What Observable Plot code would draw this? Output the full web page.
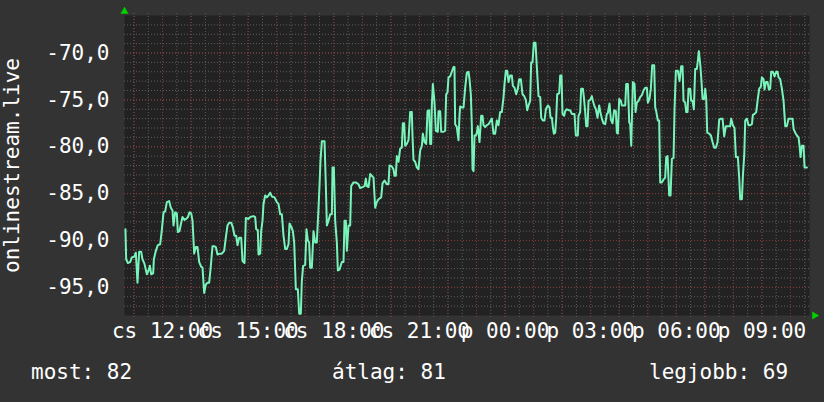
<!DOCTYPE html>
<html><head><meta charset="utf-8">
<script src="https://cdn.jsdelivr.net/npm/d3@7"></script>
<script src="https://cdn.jsdelivr.net/npm/@observablehq/plot@0.6"></script>
<style>
body{margin:0;background:#333333;}
#chart{width:824px;height:402px;position:relative;background:#333333;overflow:hidden}
.legend{position:relative;height:57px;font-family:"DejaVu Sans Mono",monospace;font-size:21px;color:#ffffff}
.legend span{position:absolute;top:15px;line-height:24px;white-space:pre}
</style></head><body><div id="chart"></div>
<script>
const yAxisTitle = "onlinestream.live";
const dayNames = ["v","h","k","sze","cs","p","szo"];
const startTime = Date.UTC(2024, 0, 4, 10, 40); // csütörtök 10:40
const spanMinutes = 1440;
const yDomain = [-98, -66];
const yTicks = [-95, -90, -85, -80, -75, -70];
const labelHours = [12, 15, 18, 21, 24, 27, 30, 33];
const legendItems = [["most", "82"], ["átlag", "81"], ["legjobb", "69"]];

const minutes = [
2.0,3.5,7.0,11.9,15.4,21.0,23.8,27.3,30.8,35.0,37.8,42.1,47.0,50.5,53.3,56.1,60.3,61.7,65.9,70.1,75.0,78.5,82.0,85.5,89.0,93.9,97.4,100.9,103.0,106.5,110.0,112.1,115.6,118.4,121.9,126.1,129.7,133.2,136.7,140.2,143.0,146.5,150.0,153.5,157.0,161.2,164.0,167.5,171.0,174.5,178.0,181.5,185.0,188.5,192.0,195.5,199.7,204.6,209.5,213.0,216.5,220.0,224.3,227.8,231.3,234.8,237.6,241.1,245.3,248.1,252.3,255.1,260.7,264.2,271.2,274.7,276.8,280.3,281.7,
285.2,287.3,290.1,292.2,295.7,299.2,302.7,306.2,309.7,315.3,320.2,323.7,327.3,330.8,334.3,337.8,341.3,344.8,346.9,350.4,353.9,356.7,360.2,364.4,367.2,370.7,372.8,375.6,379.8,382.6,385.4,388.2,390.3,393.8,397.3,400.8,404.3,407.8,409.9,412.0,414.9,420.5,423.3,425.4,428.9,432.4,435.9,437.3,440.1,442.9,446.4,448.5,452.0,456.9,460.4,462.5,465.3,467.4,470.9,474.4,476.5,481.4,486.3,491.9,495.4,500.3,504.6,507.4,509.5,513.0,516.5,520.0,523.5,527.0,530.5,534.0,539.6,542.4,546.6,551.5,555.0,557.1,562.0,565.5,567.6,570.4,572.5,
576.0,579.5,583.0,585.1,587.9,590.0,593.5,597.0,600.5,604.0,605.4,607.5,611.0,614.5,618.0,621.6,625.1,627.2,630.7,634.2,637.0,640.5,642.6,644.7,646.1,648.2,651.7,654.5,658.7,660.1,663.6,665.7,670.6,674.1,676.2,679.0,681.1,684.6,688.1,691.6,693.7,695.1,698.6,702.1,704.2,705.6,709.2,712.7,716.2,719.7,723.2,725.3,728.1,730.2,731.6,733.7,735.8,738.6,740.7,742.8,746.3,749.8,752.6,754.7,758.2,761.7,765.2,768.7,772.2,775.7,779.2,782.7,786.2,789.7,793.2,796.8,798.9,801.7,804.5,807.3,810.8,814.3,816.4,819.9,823.4,826.9,829.7,833.2,836.7,840.2,843.7,846.5,849.3,852.8,854.9,857.7,860.5,864.0,866.8,
870.4,873.9,876.0,879.5,883.0,885.8,890.0,893.5,895.6,898.4,900.5,902.6,905.4,907.5,909.6,913.8,915.9,918.7,920.8,924.3,926.4,929.9,933.4,936.9,940.4,943.9,946.0,948.8,953.0,954.4,957.9,960.0,963.6,965.7,968.5,970.6,973.4,975.5,979.0,982.5,984.6,988.1,990.9,994.4,997.9,1000.0,1003.5,1007.0,1010.5,1014.0,1016.1,1019.6,1022.4,1025.9,1029.4,1032.9,1035.0,1037.1,1039.9,1043.4,1045.5,1049.0,1052.6,1054.7,1058.2,1061.0,1063.1,1065.2,1068.7,1072.2,1074.3,1077.1,1080.6,1084.1,1087.6,1091.1,1094.6,1098.1,1100.2,1103.7,1106.5,1109.3,1113.5,1115.6,1117.7,1121.2,1124.0,1126.1,1129.6,1133.1,1136.6,1138.8,1141.6,1145.1,1147.9,1150.7,1154.2,1156.3,1159.1,1163.3,
1166.8,1170.3,1173.1,1175.2,1178.7,1180.8,1183.6,1185.7,1189.2,1191.3,1194.1,1196.9,1199.7,1203.2,1205.3,1207.4,1210.3,1212.4,1215.2,1218.7,1220.8,1222.9,1225.0,1229.2,1232.7,1236.2,1239.7,1243.2,1246.7,1250.2,1253.7,1257.2,1260.7,1264.2,1268.4,1273.3,1275.4,1278.9,1282.4,1285.2,1289.4,1292.2,1294.3,1297.9,1300.0,1302.8,1304.9,1308.4,1311.9,1315.4,1318.9,1321.0,1324.5,1328.0,1330.8,1334.3,1337.8,1339.9,1343.4,1345.5,1348.3,1351.8,1354.6,1357.4,1359.5,1363.0,1366.5,1370.0,1372.8,1374.9,1378.4,1381.9,1385.5,1389.0,1392.5,1396.0,1400.9,1404.4,1406.5,1410.0,1413.5,1417.0,1419.1,1421.2,1424.0,1427.5,1429.6,1434.5
];
const rssi = [
-88.8,-92.0,-92.4,-92.3,-91.8,-91.7,-91.3,-94.5,-91.2,-91.2,-92.0,-92.5,-93.6,-93.2,-92.7,-93.6,-93.5,-92.0,-91.1,-90.5,-90.4,-88.9,-87.0,-86.9,-85.9,-85.8,-86.5,-86.8,-88.4,-87.0,-87.1,-89.1,-89.0,-88.3,-87.5,-87.8,-87.7,-87.5,-87.0,-87.1,-87.9,-91.4,-90.7,-90.7,-92.3,-92.8,-92.9,-95.6,-94.7,-94.5,-94.5,-92.7,-90.6,-90.6,-90.7,-91.5,-91.4,-91.4,-91.1,-89.7,-88.4,-88.1,-88.1,-88.6,-89.5,-89.5,-90.5,-89.7,-89.7,-92.2,-92.4,-87.6,-87.7,-87.5,-87.4,-87.5,-88.8,-88.9,-91.5,
-91.4,-89.0,-87.9,-86.1,-85.2,-85.4,-85.2,-84.9,-85.3,-85.4,-85.9,-86.1,-87.2,-87.2,-89.5,-90.9,-90.9,-90.4,-88.2,-88.5,-89.0,-90.2,-95.2,-95.2,-97.8,-97.8,-94.3,-92.7,-92.6,-88.8,-90.0,-90.2,-92.9,-92.9,-89.0,-90.2,-90.2,-86.6,-84.2,-81.5,-79.4,-79.4,-84.2,-88.4,-87.9,-87.2,-87.2,-82.2,-82.2,-87.9,-90.2,-93.2,-93.1,-92.3,-92.3,-87.9,-87.9,-91.1,-88.4,-88.4,-84.2,-83.8,-83.8,-84.0,-84.4,-84.3,-84.2,-83.4,-84.2,-84.3,-82.9,-83.1,-83.3,-86.5,-85.9,-85.6,-85.4,-83.9,-83.6,-84.0,-84.0,-82.0,-82.1,-82.4,-83.1,-83.1,-81.0,
-81.6,-80.2,-80.1,-77.5,-77.5,-79.9,-79.7,-79.3,-76.3,-76.3,-78.8,-81.4,-81.6,-82.2,-82.4,-80.4,-79.9,-78.6,-79.5,-79.7,-76.2,-76.1,-79.7,-79.7,-75.6,-73.3,-75.3,-78.3,-78.4,-76.2,-76.2,-78.4,-78.4,-78.3,-74.4,-74.2,-72.6,-72.5,-72.0,-71.5,-71.5,-77.6,-77.9,-79.3,-76.7,-75.7,-75.8,-75.8,-73.7,-72.1,-72.0,-72.8,-74.4,-77.8,-82.4,-82.6,-78.8,-78.8,-78.5,-77.8,-79.5,-76.7,-76.7,-77.7,-77.9,-77.7,-77.6,-77.3,-77.0,-78.6,-78.6,-77.2,-77.7,-76.3,-76.3,-74.7,-73.3,-71.9,-71.9,-73.1,-72.4,-72.4,-73.5,-73.7,-74.4,-73.8,-72.8,-72.8,-74.4,-74.6,-75.0,-76.1,-75.6,-75.1,-71.0,-71.0,-68.9,-68.9,-71.5,
-74.6,-74.7,-76.9,-77.2,-77.2,-76.0,-75.6,-75.8,-76.9,-76.9,-77.9,-78.6,-78.5,-77.0,-74.4,-74.3,-72.4,-72.4,-76.5,-76.7,-76.2,-76.0,-76.1,-76.1,-76.5,-76.5,-76.5,-78.8,-78.8,-76.7,-76.3,-73.8,-73.8,-74.7,-76.3,-77.8,-77.8,-75.1,-75.0,-74.6,-75.1,-75.7,-76.0,-76.9,-75.6,-76.2,-77.0,-77.5,-77.6,-76.5,-76.4,-75.4,-77.1,-77.5,-76.1,-76.2,-78.5,-78.6,-74.9,-75.1,-75.6,-75.6,-75.6,-73.3,-73.3,-77.4,-77.6,-79.9,-73.1,-73.3,-76.3,-75.3,-75.1,-74.7,-74.5,-74.0,-73.7,-73.7,-75.3,-74.9,-73.8,-71.3,-71.3,-75.8,-76.2,-77.2,-77.2,-83.8,-83.8,-83.5,-83.3,-81.1,-81.0,-85.2,-85.2,-81.3,-81.2,-76.0,-71.9,-71.9,
-73.0,-71.4,-71.4,-75.1,-75.3,-76.3,-76.3,-73.8,-73.8,-75.1,-75.1,-76.0,-71.7,-71.7,-70.8,-69.8,-71.2,-72.6,-74.9,-74.9,-73.8,-74.9,-78.5,-78.6,-78.8,-79.5,-80.1,-80.1,-79.5,-77.1,-77.0,-77.0,-78.9,-77.8,-77.8,-77.8,-77.0,-77.7,-78.0,-81.1,-81.1,-83.3,-85.6,-85.6,-83.1,-80.9,-77.2,-77.0,-77.7,-77.7,-77.6,-76.6,-76.5,-76.3,-75.1,-73.8,-73.6,-72.6,-72.8,-73.9,-73.1,-73.1,-73.9,-73.8,-72.0,-72.0,-72.5,-72.0,-72.0,-72.6,-72.8,-73.8,-75.1,-77.8,-77.8,-77.0,-77.0,-77.0,-78.1,-78.5,-78.8,-79.0,-79.9,-81.1,-79.9,-79.9,-82.2,-82.2
];

const data = minutes.map((m, i) => ({t: new Date(startTime + m * 60000), v: rssi[i]}));
const x0 = new Date(startTime);
const x1 = new Date(startTime + spanMinutes * 60000);
const dayStart = Date.UTC(2024, 0, 4);
const labelTimes = labelHours.map(h => new Date(dayStart + h * 3600000));
const halfHours = d3.utcMinute.every(30).range(x0, x1);
const hours = d3.utcHour.range(x0, x1);
const minorY = d3.range(yDomain[0] + 1, yDomain[1]);
const majorY = yTicks;

const fmtX = d => `${dayNames[d.getUTCDay()]} ${String(d.getUTCHours()).padStart(2, "0")}:${String(d.getUTCMinutes()).padStart(2, "0")}`;
const fmtY = v => v.toFixed(1).replace(".", ",");

const plot = Plot.plot({
  width: 824, height: 345,
  marginLeft: 124, marginRight: 15, marginTop: 15, marginBottom: 30,
  style: {background: "transparent", color: "#ffffff", fontFamily: "DejaVu Sans Mono", fontSize: "21px"},
  x: {type: "utc", domain: [x0, x1]},
  y: {domain: yDomain},
  marks: [
    Plot.frame({fill: "#222222", stroke: null}),
    Plot.ruleY(minorY, {stroke: "#5e5e5e", strokeDasharray: "1,2"}),
    Plot.ruleX(halfHours, {stroke: "#5e5e5e", strokeDasharray: "1,2", insetTop: -2, insetBottom: -3}),
    Plot.ruleY(majorY, {stroke: "#843838", strokeDasharray: "1,2"}),
    Plot.ruleX(hours, {stroke: "#843838", strokeDasharray: "1,2", insetTop: -2, insetBottom: -3}),
    Plot.line(data, {x: "t", y: "v", stroke: "#78f4bb", strokeWidth: 2}),
    Plot.axisY(yTicks, {tickSize: 0, tickPadding: 15, tickFormat: fmtY, label: null, fill: "#ffffff"}),
    Plot.axisX(labelTimes, {tickSize: 0, tickPadding: 8, tickFormat: fmtX, label: null, fill: "#ffffff"}),
    Plot.text([yAxisTitle], {frameAnchor: "left", dx: -112, rotate: -90, textAnchor: "middle", fill: "#ffffff"}),
    Plot.dot([{t: x0, v: yDomain[1]}], {x: "t", y: "v", symbol: "triangle", r: 3, fill: "#00d000", stroke: null, dy: -4}),
    Plot.dot([{t: x1, v: yDomain[0]}], {x: "t", y: "v", symbol: "triangle", r: 3, fill: "#00d000", stroke: null, rotate: 90, dx: 5})
  ]
});
const chart = document.getElementById("chart");
chart.appendChild(plot);
const legend = document.createElement("div");
legend.className = "legend";
const legendLeft = [31, 332, 649];
legendItems.forEach(([k, v], i) => {
  const s = document.createElement("span");
  s.textContent = `${k}: ${v}`;
  s.style.left = legendLeft[i] + "px";
  legend.appendChild(s);
});
chart.appendChild(legend);
</script></body></html>
